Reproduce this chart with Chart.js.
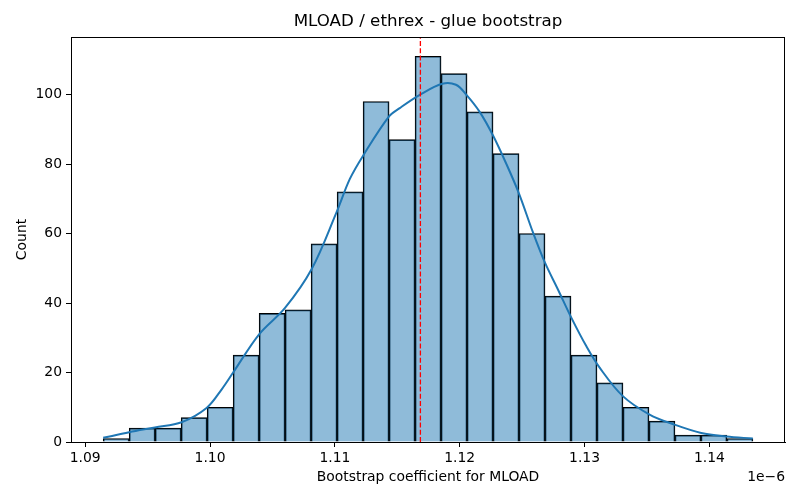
<!DOCTYPE html>
<html>
<head>
<meta charset="utf-8">
<script src="https://cdn.jsdelivr.net/npm/chart.js@4.4.1/dist/chart.umd.min.js"></script>
<style>
  html, body { margin: 0; padding: 0; background: #fff; }
  #wrap { width: 800px; height: 500px; }
</style>
</head>
<body>
<div id="wrap"><canvas id="histChart" width="800" height="500"></canvas></div>
<script>
// bootstrap histogram (x in units of 1e-6)
const binStart = 1.09144;
const binWidth = 0.002082;
const binCounts = [1, 4, 4, 7, 10, 25, 37, 38, 57, 72, 98, 87, 111, 106, 95, 83, 60, 42, 25, 17, 10, 6, 2, 2, 1];

// kde curve (scaled to counts)
const kdeX = [1.09144, 1.09352, 1.09558, 1.09772, 1.09972, 1.10092, 1.10185, 1.10393, 1.10599, 1.10813,
              1.11013, 1.11120, 1.11226, 1.11434, 1.11520, 1.11680, 1.11860, 1.11970, 1.12054, 1.12160,
              1.12267, 1.12374, 1.12475, 1.12587, 1.12683, 1.12787, 1.12894, 1.13014, 1.13121, 1.13307,
              1.13521, 1.13721, 1.13935, 1.14135, 1.14348];
const kdeY = [1.2, 2.8, 4.2, 5.7, 9.8, 15.1, 20.0, 31.0, 38.5, 49.7,
              66.1, 75.7, 82.4, 93.7, 96.1, 99.9, 103.1, 102.8, 99.9, 95.0,
              88.2, 80.0, 71.5, 60.3, 51.6, 43.9, 35.8, 27.6, 21.4, 13.2,
              7.9, 5.0, 2.6, 1.6, 1.0];

const meanValue = 1.11685;
const xTicks = [1.09, 1.10, 1.11, 1.12, 1.13, 1.14];
const yTicks = [0, 20, 40, 60, 80, 100];

const xMin = 1.08886, xMax = 1.14606;
const yMax = 116.55;

const FONT = "'DejaVu Sans', sans-serif";

// spines, title, axis labels, offset text
const decorations = {
    id: 'decorations',
    afterDraw(chart) {
        const { ctx, chartArea: a } = chart;
        ctx.save();
        ctx.strokeStyle = '#000';
        ctx.lineWidth = 1;
        ctx.strokeRect(a.left + 0.5, a.top + 0.5, a.right - a.left - 1, a.bottom - a.top);
        ctx.fillStyle = '#000';
        ctx.textAlign = 'center';
        ctx.textBaseline = 'middle';
        const cx = (a.left + a.right) / 2;
        ctx.font = `16.7px ${FONT}`;
        ctx.fillText('MLOAD / ethrex - glue bootstrap', cx, 22);
        ctx.font = `13.9px ${FONT}`;
        ctx.fillText('Bootstrap coefficient for MLOAD', cx, 477);
        ctx.textAlign = 'right';
        ctx.fillText('1e\u22126', a.right, 477);
        ctx.translate(22, (a.top + a.bottom) / 2);
        ctx.rotate(-Math.PI / 2);
        ctx.textAlign = 'center';
        ctx.fillText('Count', 0, 0);
        ctx.restore();
    }
};

const barData = binCounts.map((c, i) => ({ x: binStart + binWidth * (i + 0.5), y: c }));
const kdeData = kdeX.map((x, i) => ({ x: x, y: kdeY[i] }));

new Chart(document.getElementById('histChart').getContext('2d'), {
    type: 'bar',
    data: {
        datasets: [
            {
                type: 'line',
                data: [{ x: meanValue, y: 0 }, { x: meanValue, y: yMax }],
                borderColor: '#ff0000',
                borderWidth: 1.3,
                borderDash: [5, 2.2],
                pointRadius: 0,
                order: 0
            },
            {
                type: 'line',
                data: kdeData,
                borderColor: '#1f77b4',
                borderWidth: 2,
                pointRadius: 0,
                tension: 0.35,
                order: 1
            },
            {
                type: 'bar',
                data: barData,
                backgroundColor: 'rgba(31,119,180,0.5)',
                borderColor: '#000',
                borderWidth: 1,
                barPercentage: 1,
                categoryPercentage: 1,
                order: 2
            }
        ]
    },
    options: {
        responsive: false,
        animation: false,
        layout: { padding: { left: 0, right: 15, top: 37, bottom: 0 } },
        plugins: { legend: { display: false }, title: { display: false }, tooltip: { enabled: false } },
        scales: {
            x: {
                type: 'linear',
                offset: false,
                min: xMin,
                max: xMax,
                afterBuildTicks: s => { s.ticks = xTicks.map(v => ({ value: v })); },
                afterFit: s => { s.height = 58; },
                grid: { offset: false, drawOnChartArea: false, drawTicks: true, tickLength: 5, color: '#000' },
                border: { display: true, color: '#000' },
                ticks: {
                    color: '#000',
                    font: { family: FONT, size: 13.9 },
                    padding: 3,
                    maxRotation: 0,
                    callback: v => v.toFixed(2)
                }
            },
            y: {
                min: 0,
                max: yMax,
                afterBuildTicks: s => { s.ticks = yTicks.map(v => ({ value: v })); },
                afterFit: s => { s.width = 71; },
                grid: { drawOnChartArea: false, drawTicks: true, tickLength: 5, color: '#000' },
                border: { display: true, color: '#000' },
                ticks: {
                    color: '#000',
                    font: { family: FONT, size: 13.9 },
                    padding: 4
                }
            }
        }
    },
    plugins: [decorations]
});
</script>
</body>
</html>
